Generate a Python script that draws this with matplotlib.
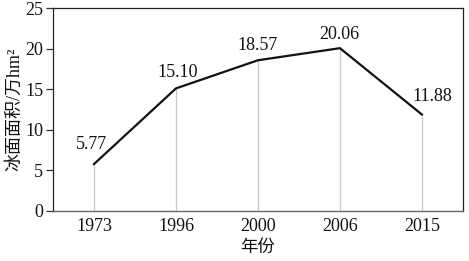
import matplotlib.pyplot as plt

years = ['1973', '1996', '2000', '2006', '2015']
area = [5.77, 15.10, 18.57, 20.06, 11.88]
labels = ['5.77', '15.10', '18.57', '20.06', '11.88']
yticks = [0, 5, 10, 15, 20, 25]

plt.rcParams['font.family'] = ['Liberation Serif', 'Noto Sans CJK SC']

fig = plt.figure(figsize=(4.69, 2.61), dpi=100)
ax = fig.add_axes([0.113, 0.192, 0.874, 0.777])

x = list(range(len(years)))
#light drop lines from axis to each point
ax.vlines(x, 0, area, color='#c8c8c8', lw=0.9, zorder=1)
ax.plot(x, area, color='#111111', lw=1.6, zorder=2)

#label offsets in points (dx, dy)
offsets = [(-1.5, 8), (1.5, 5.5), (-0.5, 4.5), (-0.5, 3.5), (7.5, 7)]
for xi, v, lab, off in zip(x, area, labels, offsets):
    ax.annotate(lab, (xi, v), xytext=off, textcoords='offset points',
                ha='center', va='bottom', fontsize=13, color='#111111')

ax.set_xlim(-0.5, len(years) - 0.5)
ax.set_ylim(0, 25)
ax.set_xticks(x)
ax.set_xticklabels(years)
ax.set_yticks(yticks)
ax.tick_params(axis='x', length=0, labelsize=13, pad=5, labelcolor='#111111')
ax.tick_params(axis='y', length=5, width=0.9, labelsize=13, pad=2,
               color='#333333', labelcolor='#111111')

for side in ['left', 'top', 'right']:
    ax.spines[side].set_color('#222222')
    ax.spines[side].set_linewidth(0.9)
ax.spines['bottom'].set_color('#666666')
ax.spines['bottom'].set_linewidth(1.0)

ax.set_xlabel('年份', fontsize=12.5, labelpad=4, color='#111111')
ax.set_ylabel('冰面面积/万hm²', fontsize=13, labelpad=1.5, color='#111111')

fig.savefig('out.png', dpi=100)
